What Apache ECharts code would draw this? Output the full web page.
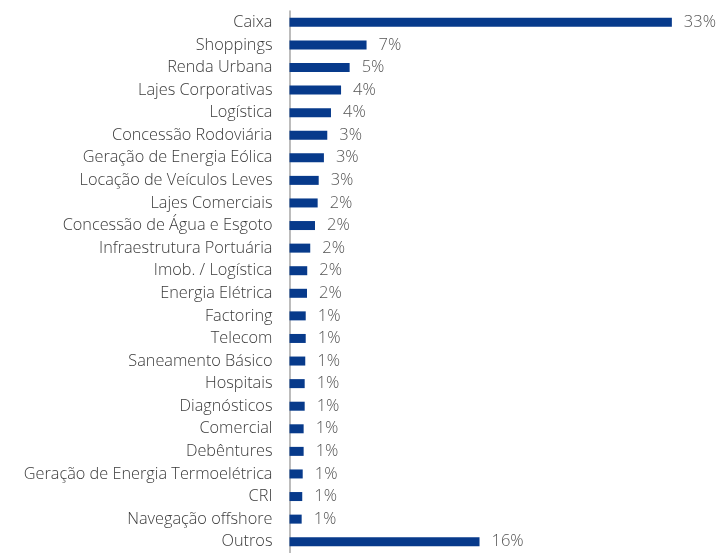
<!DOCTYPE html>
<html><head><meta charset="utf-8">
<script src="https://cdn.jsdelivr.net/npm/echarts@6/dist/echarts.min.js"></script>
<style>html,body{margin:0;padding:0;background:#fff}#c{width:724px;height:553px}</style>
</head><body><div id="c"></div>
<script>
var categories = ["Caixa","Shoppings","Renda Urbana","Lajes Corporativas","Logística","Concessão Rodoviária","Geração de Energia Eólica","Locação de Veículos Leves","Lajes Comerciais","Concessão de Água e Esgoto","Infraestrutura Portuária","Imob. / Logística","Energia Elétrica","Factoring","Telecom","Saneamento Básico","Hospitais","Diagnósticos","Comercial","Debêntures","Geração de Energia Termoelétrica","CRI","Navegação offshore","Outros"];
var values = [33.0,6.65,5.19,4.45,3.58,3.26,2.97,2.52,2.43,2.2,1.79,1.53,1.51,1.40,1.40,1.36,1.31,1.31,1.22,1.22,1.14,1.10,1.05,16.4];
var labels = ["33%","7%","5%","4%","4%","3%","3%","3%","2%","2%","2%","2%","2%","1%","1%","1%","1%","1%","1%","1%","1%","1%","1%","16%"];
var chart = echarts.init(document.getElementById('c'));
chart.setOption({
  animation:false,
  grid:{left:289.5,top:11,width:435,height:545.8,containLabel:false},
  xAxis:{type:'value',min:0,max:37.5,show:false},
  yAxis:{type:'category',data:categories,inverse:true,
    axisTick:{show:false},
    axisLine:{show:true,lineStyle:{color:'#a6a6a6',width:1.5}},
    axisLabel:{margin:17,color:'#3a3a3a',fontFamily:'Open Sans',fontWeight:300,fontSize:16.3}},
  series:[{type:'bar',data:values,barWidth:9,itemStyle:{color:'#073a8b'},
    label:{show:true,position:'right',distance:12,color:'#555555',fontFamily:'Open Sans',fontWeight:300,fontSize:16.5,
      formatter:function(p){return labels[p.dataIndex];}}}]
});
</script></body></html>
